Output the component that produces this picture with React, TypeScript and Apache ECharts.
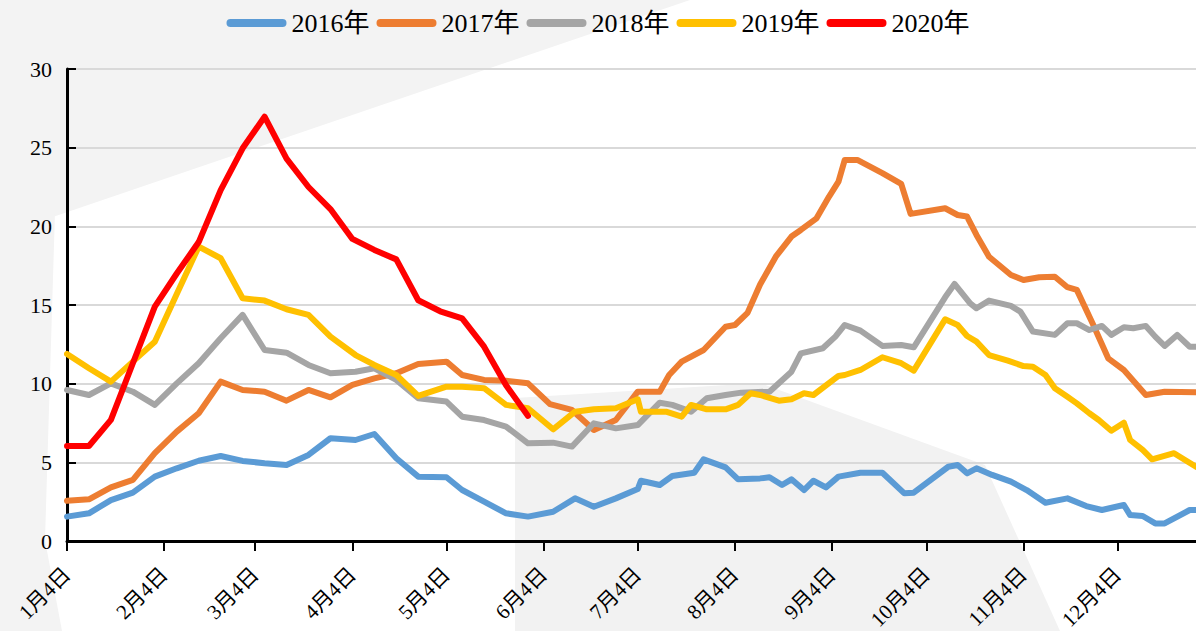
import React, { useEffect, useRef } from "react";
import * as echarts from "echarts";

// x values are days counted from 1月4日
const tickDays = [0, 31, 60, 91, 121, 152, 182, 213, 244, 274, 305, 335];
const tickLabels = ["1月4日", "2月4日", "3月4日", "4月4日", "5月4日", "6月4日", "7月4日", "8月4日", "9月4日", "10月4日", "11月4日", "12月4日"];

const seriesNames = ["2016年", "2017年", "2018年", "2019年", "2020年"];
const seriesColors = ["#5B9BD5", "#ED7D31", "#A5A5A5", "#FFC000", "#FF0000"];

const data2016: [number, number][] = [
  [0, 1.55], [7, 1.76], [14, 2.6], [21, 3.07], [28, 4.09], [35, 4.62], [42, 5.1], [49, 5.4], [56, 5.09], [63, 4.94],
  [70, 4.83], [77, 5.47], [84, 6.53], [92, 6.42], [98, 6.8], [105, 5.26], [112, 4.09], [121, 4.05], [126, 3.24], [133, 2.5],
  [140, 1.76], [147, 1.55], [155, 1.86], [162, 2.71], [168, 2.18], [175, 2.71], [182, 3.3], [183, 3.83], [189, 3.56], [193, 4.13],
  [200, 4.34], [203, 5.19], [210, 4.68], [214, 3.92], [221, 3.98], [224, 4.05], [228, 3.56], [231, 3.92], [235, 3.24], [238, 3.83],
  [242, 3.41], [246, 4.09], [253, 4.34], [260, 4.34], [267, 3.03], [270, 3.07], [281, 4.72], [284, 4.83], [287, 4.3], [290, 4.62],
  [295, 4.2], [301, 3.77], [306, 3.24], [312, 2.43], [319, 2.71], [325, 2.22], [330, 1.97], [337, 2.29], [339, 1.65], [343, 1.59],
  [347, 1.12], [350, 1.12], [358, 1.97], [360, 1.97],
];

const data2017: [number, number][] = [
  [0, 2.56], [7, 2.65], [14, 3.41], [21, 3.88], [28, 5.58], [35, 6.95], [42, 8.12], [49, 10.13], [56, 9.6], [63, 9.49],
  [70, 8.92], [77, 9.6], [84, 9.13], [91, 9.92], [98, 10.34], [105, 10.66], [112, 11.25], [121, 11.4], [126, 10.55], [133, 10.24],
  [140, 10.19], [147, 10.02], [154, 8.7], [161, 8.33], [168, 7.06], [175, 7.69], [182, 9.49], [189, 9.49], [192, 10.55], [196, 11.4],
  [203, 12.14], [210, 13.62], [213, 13.73], [217, 14.5], [221, 16.3], [226, 18.07], [231, 19.35], [234, 19.77], [239, 20.51], [243, 21.89],
  [246, 22.84], [248, 24.22], [252, 24.22], [260, 23.38], [266, 22.7], [269, 20.79], [280, 21.15], [284, 20.72], [287, 20.62], [290, 19.45],
  [294, 18.07], [301, 16.91], [305, 16.59], [310, 16.76], [315, 16.8], [319, 16.13], [322, 15.96], [327, 13.84], [332, 11.61], [337, 10.87],
  [344, 9.28], [350, 9.49], [360, 9.45],
];

const data2018: [number, number][] = [
  [0, 9.6], [7, 9.28], [14, 10.02], [21, 9.49], [28, 8.65], [35, 10.02], [42, 11.3], [49, 12.89], [56, 14.37], [63, 12.14],
  [70, 11.97], [77, 11.19], [84, 10.66], [92, 10.76], [98, 10.98], [105, 10.24], [112, 9.07], [121, 8.86], [126, 7.9], [133, 7.69],
  [140, 7.27], [147, 6.21], [155, 6.25], [161, 6.0], [168, 7.48], [175, 7.16], [182, 7.37], [189, 8.79], [193, 8.65], [199, 8.22],
  [204, 9.07], [210, 9.28], [215, 9.43], [224, 9.49], [231, 10.76], [234, 11.93], [241, 12.25], [245, 12.99], [248, 13.73], [253, 13.37],
  [260, 12.4], [266, 12.46], [270, 12.31], [280, 15.49], [283, 16.34], [288, 15.1], [290, 14.79], [294, 15.28], [301, 14.94], [304, 14.58],
  [308, 13.31], [315, 13.1], [319, 13.84], [322, 13.84], [326, 13.41], [330, 13.67], [333, 13.1], [337, 13.59], [340, 13.52], [344, 13.67],
  [347, 12.99], [350, 12.4], [354, 13.1], [358, 12.35], [360, 12.35],
];

const data2019: [number, number][] = [
  [0, 11.89], [7, 10.98], [14, 10.13], [21, 11.4], [28, 12.67], [35, 15.7], [42, 18.71], [49, 17.97], [56, 15.43], [63, 15.28],
  [70, 14.73], [77, 14.37], [84, 12.99], [92, 11.82], [98, 11.19], [105, 10.55], [112, 9.22], [121, 9.81], [126, 9.81], [133, 9.71],
  [140, 8.65], [147, 8.44], [155, 7.1], [162, 8.22], [168, 8.37], [175, 8.44], [182, 9.01], [183, 8.22], [191, 8.22], [196, 7.9],
  [199, 8.65], [204, 8.37], [210, 8.37], [214, 8.65], [218, 9.39], [221, 9.28], [227, 8.92], [231, 9.01], [235, 9.39], [238, 9.28],
  [246, 10.49], [248, 10.55], [253, 10.87], [260, 11.68], [266, 11.3], [270, 10.83], [280, 14.09], [284, 13.73], [287, 13.03], [290, 12.67],
  [294, 11.82], [300, 11.46], [305, 11.12], [308, 11.08], [312, 10.55], [315, 9.71], [319, 9.17], [322, 8.75], [326, 8.12], [329, 7.69],
  [333, 7.01], [337, 7.52], [339, 6.42], [343, 5.79], [346, 5.19], [353, 5.58], [360, 4.72],
];

const data2020: [number, number][] = [
  [0, 6.04], [7, 6.04], [14, 7.7], [21, 11.3], [28, 14.9], [35, 17.0], [42, 19.0], [49, 22.3], [56, 24.96], [63, 26.97],
  [70, 24.3], [77, 22.5], [84, 21.1], [91, 19.2], [98, 18.5], [105, 17.9], [112, 15.3], [119, 14.6], [126, 14.15], [133, 12.35],
  [140, 9.9], [147, 7.95],
];

const allData = [data2016, data2017, data2018, data2019, data2020];

const SERIF = "'Liberation Serif', 'Times New Roman', 'Noto Sans CJK SC', serif";

export default function App() {
  const ref = useRef<HTMLDivElement>(null);
  useEffect(() => {
    if (!ref.current) return;
    const chart = echarts.init(ref.current, null, { renderer: "svg" });
    chart.setOption({
      animation: false,
      backgroundColor: "#ffffff",
      graphic: {
        elements: [
          { type: "polygon", silent: true, z: -100, shape: { points: [[0, 0], [690, 0], [0, 235]] }, style: { fill: "#f3f3f3" } },
          { type: "polygon", silent: true, z: -100, shape: { points: [[515, 398], [760, 383], [985, 465], [1060, 631], [515, 631]] }, style: { fill: "#f2f2f2" } },
          { type: "polygon", silent: true, z: -100, shape: { points: [[0, 230], [55, 212], [45, 540], [62, 631], [0, 631]] }, style: { fill: "#f3f3f3" } },
        ],
      },
      legend: {
        top: 5,
        left: "center",
        itemWidth: 60,
        itemHeight: 8,
        itemGap: 7,
        icon: "path://M4 0H56A4 4 0 0 1 56 8H4A4 4 0 0 1 4 0Z",
        textStyle: { fontFamily: SERIF, fontSize: 26, color: "#000" },
        data: seriesNames,
      },
      grid: { left: 67, right: 0, top: 69, bottom: 90, containLabel: false, outerBoundsMode: "none" },
      xAxis: {
        type: "value",
        min: 0,
        max: 360,
        axisLine: { show: true, onZero: false, lineStyle: { color: "#000", width: 3 } },
        axisTick: { show: true, customValues: tickDays, length: 10, lineStyle: { color: "#000", width: 2 } },
        axisLabel: {
          customValues: tickDays,
          rotate: 45,
          margin: 30,
          fontFamily: SERIF,
          fontSize: 21,
          color: "#000",
          formatter: (v: number) => {
            const i = tickDays.indexOf(Math.round(v));
            return i >= 0 ? tickLabels[i] : "";
          },
        },
        splitLine: { show: false },
      },
      yAxis: {
        type: "value",
        min: 0,
        max: 30,
        interval: 5,
        axisLine: { show: true, lineStyle: { color: "#000", width: 3 } },
        axisTick: { show: true, inside: true, length: 9, lineStyle: { color: "#000", width: 2 } },
        axisLabel: { fontFamily: SERIF, fontSize: 22, color: "#000", margin: 15 },
        splitLine: { show: true, lineStyle: { color: "#d9d9d9", width: 2 } },
      },
      series: seriesNames.map((name, i) => ({
        name,
        type: "line",
        data: allData[i],
        symbol: "none",
        z: 2 + i,
        itemStyle: { color: seriesColors[i] },
        lineStyle: { color: seriesColors[i], width: 6, cap: "round", join: "round" },
      })),
    });
    return () => chart.dispose();
  }, []);
  return (
    <div
      ref={ref}
      style={{ position: "fixed", left: 0, top: 0, width: 1196, height: 631 }}
    />
  );
}
